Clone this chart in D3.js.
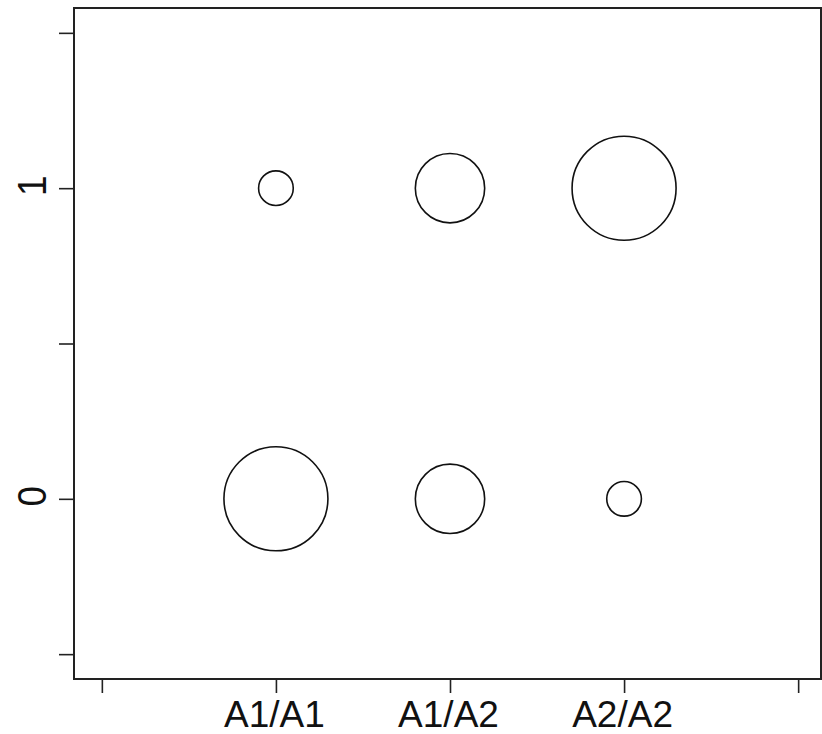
<!DOCTYPE html>
<html>
<head>
<meta charset="utf-8">
<script src="https://cdn.jsdelivr.net/npm/d3@7"></script>
<style>
  html, body { margin: 0; padding: 0; background: #fff; }
  svg { display: block; }
</style>
</head>
<body>
<div id="chart"></div>
<script>
// genotype classes along x, outcome (0/1) along y, circle size = count
const genotypes = ['A1/A1', 'A1/A2', 'A2/A2'];
const outcomes = [0, 1];
const countsOutcome1 = [1, 2, 3];
const countsOutcome0 = [3, 2, 1];
const xTicks = [0, 1, 2, 3, 4];
const yTicks = [-0.5, 0, 0.5, 1, 1.5];
const yLabels = { 0: '0', 1: '1' };

const width = 822;
const height = 734;
const box = { left: 74, right: 821, top: 8, bottom: 679 };

const points = [];
genotypes.forEach((g, i) => {
  points.push({ x: i + 1, y: 1, n: countsOutcome1[i] });
  points.push({ x: i + 1, y: 0, n: countsOutcome0[i] });
});

const x = d3.scaleLinear()
  .domain([-0.16, 4.16])
  .range([box.left, 826]);

const y = d3.scaleLinear()
  .domain([-0.58, 1.58])
  .range([box.bottom, box.top]);

const r = d3.scaleLinear()
  .domain([0, 3])
  .range([0, 52]);

const svg = d3.select('#chart')
  .append('svg')
  .attr('width', width)
  .attr('height', height)
  .style('font-family', '"Liberation Sans", Arial, sans-serif');

const xAxis = g => g
  .attr('transform', `translate(0,${box.bottom})`)
  .call(d3.axisBottom(x)
    .tickValues(xTicks)
    .tickSize(14)
    .tickFormat(d => genotypes[d - 1] || ''))
  .call(g => g.select('.domain').remove())
  .call(g => g.selectAll('.tick line')
    .attr('stroke', '#222')
    .attr('stroke-width', 1.6))
  .call(g => g.selectAll('.tick text')
    .attr('x', -2)
    .attr('y', 48)
    .attr('dy', 0)
    .attr('fill', '#111')
    .style('font-size', '37px'));

const yAxis = g => g
  .attr('transform', `translate(${box.left},0)`)
  .call(d3.axisLeft(y)
    .tickValues(yTicks)
    .tickSize(15)
    .tickFormat(d => yLabels[d] || ''))
  .call(g => g.select('.domain').remove())
  .call(g => g.selectAll('.tick line')
    .attr('stroke', '#222')
    .attr('stroke-width', 1.6))
  .call(g => g.selectAll('.tick text')
    .attr('transform', 'scale(1.12,1) rotate(-90)')
    .attr('x', 3)
    .attr('y', -25)
    .attr('dy', 0)
    .attr('text-anchor', 'middle')
    .attr('fill', '#111')
    .style('font-size', '37px'));

svg.append('g').call(xAxis);
svg.append('g').call(yAxis);

svg.append('rect')
  .attr('x', box.left)
  .attr('y', box.top)
  .attr('width', box.right - box.left)
  .attr('height', box.bottom - box.top)
  .attr('fill', 'none')
  .attr('stroke', '#222')
  .attr('stroke-width', 2);

svg.append('g')
  .attr('fill', 'none')
  .attr('stroke', '#111')
  .attr('stroke-width', 1.6)
  .selectAll('circle')
  .data(points)
  .join('circle')
  .attr('cx', d => x(d.x))
  .attr('cy', d => y(d.y))
  .attr('r', d => r(d.n));
</script>
</body>
</html>
